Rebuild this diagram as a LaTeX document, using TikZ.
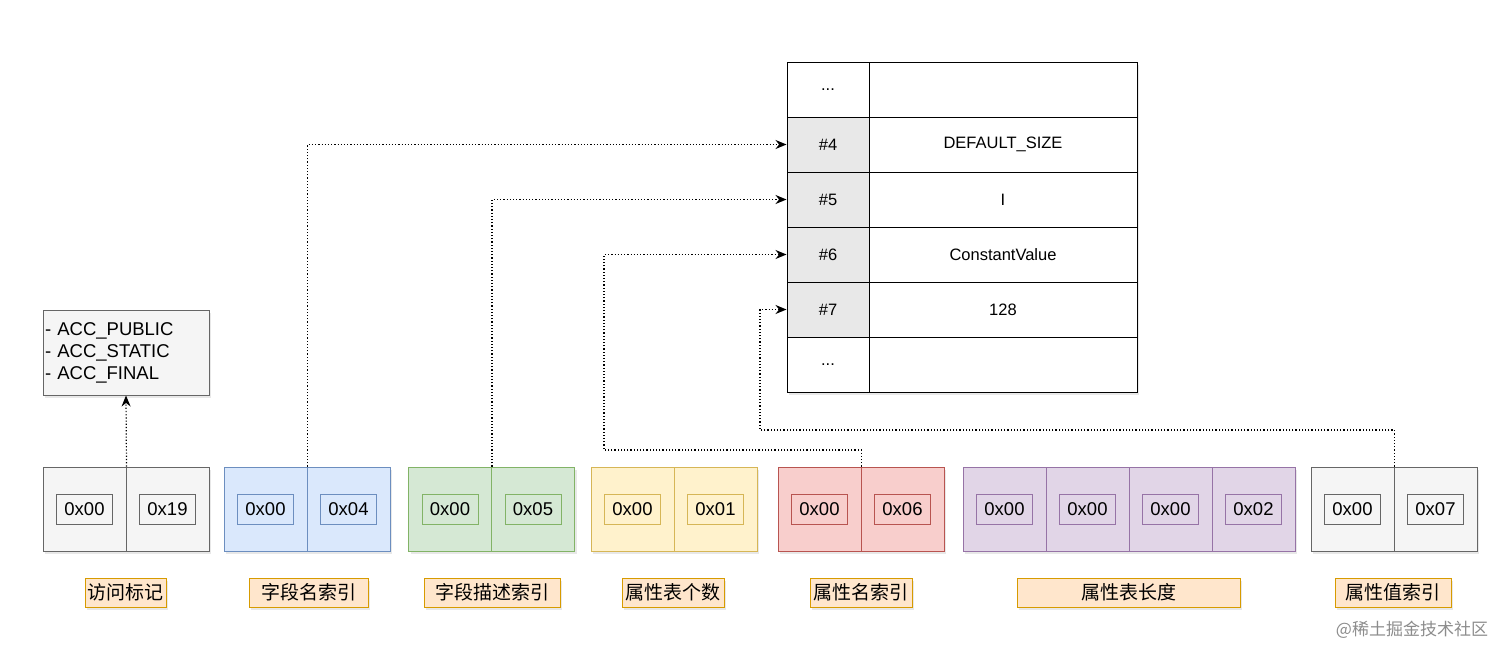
\documentclass[tikz,border=0pt]{standalone}
\usepackage{fontspec}
\setmainfont{Liberation Sans}
\newfontfamily\cjk{Noto Sans CJK SC}
\usetikzlibrary{arrows.meta,shadows}
\definecolor{grayF}{HTML}{F5F5F5}\definecolor{grayB}{HTML}{666666}
\definecolor{blueF}{HTML}{DAE8FC}\definecolor{blueB}{HTML}{6C8EBF}
\definecolor{greenF}{HTML}{D5E8D4}\definecolor{greenB}{HTML}{82B366}
\definecolor{yelF}{HTML}{FFF2CC}\definecolor{yelB}{HTML}{D6B656}
\definecolor{redF}{HTML}{F8CECC}\definecolor{redB}{HTML}{B85450}
\definecolor{purF}{HTML}{E1D5E7}\definecolor{purB}{HTML}{9673A6}
\definecolor{labF}{HTML}{FFE6CC}\definecolor{labB}{HTML}{D79B00}
\begin{document}
\begin{tikzpicture}[x=1pt,y=-1pt,
  shad/.style={drop shadow={opacity=0.18,shadow xshift=2pt,shadow yshift=-3pt}},
  cell/.style={draw, line width=1pt, minimum width=83pt, minimum height=84pt, inner sep=0pt, shad},
  byte/.style={draw, line width=0.8pt, minimum width=56pt, minimum height=30pt, inner sep=0pt, font=\fontsize{18.5}{20}\selectfont},
  lab/.style={draw=labB, fill=labF, line width=1pt, minimum height=29pt, inner sep=2pt, font=\cjk\fontsize{19}{20}\selectfont, shad},
  conn/.style={dotted, line width=1.2pt, -{Stealth[length=11pt,width=9pt]}},
  tcell/.style={draw, fill=white, line width=1pt, minimum height=55pt, inner sep=0pt, font=\fontsize{16.5}{18}\selectfont},
  tl/.style={tcell, minimum width=82pt},
  tr/.style={tcell, minimum width=268pt},
  tg/.style={fill=black!9}
]
\useasboundingbox (0,0) rectangle (1512,659);
% access flags box
\node[draw=grayB, fill=grayF, line width=1pt, minimum width=166pt, minimum height=85pt, text width=162pt, inner sep=2pt, align=left, font=\fontsize{18.5}{22}\selectfont, shad] (acc) at (126,352.5) {- ACC\_PUBLIC\\- ACC\_STATIC\\- ACC\_FINAL};
% table
\node[draw, fill=white, line width=1pt, minimum height=330pt, minimum width=350pt, shad] (tbg) at (962,227) {};
\node[tl] (t0l) at (828,89.5) {...};
\node[tr] (t0r) at (1003,89.5) {};
\node[tl,tg] (t4l) at (828,144.5) {\#4};
\node[tr] (t4r) at (1003,144.5) {DEFAULT\_SIZE};
\node[tl,tg] (t5l) at (828,199.5) {\#5};
\node[tr] (t5r) at (1003,199.5) {I};
\node[tl,tg] (t6l) at (828,254.5) {\#6};
\node[tr] (t6r) at (1003,254.5) {ConstantValue};
\node[tl,tg] (t7l) at (828,309.5) {\#7};
\node[tr] (t7r) at (1003,309.5) {128};
\node[tl] (t8l) at (828,364.5) {...};
\node[tr] (t8r) at (1003,364.5) {};
% byte groups
\newcommand{\grp}[5]{% name, left, fill, border, list
  \foreach \v [count=\i] in {#5} {
    \node[cell, fill=#3, draw=#4] (#1\i) at ({#2+41.5+83*(\i-1)},509) {};
    \node[byte, draw=#4] (#1\i v) at (#1\i) {\v};
  }}
\grp{ga}{43}{grayF}{grayB}{0x00,0x19}
\grp{gb}{224}{blueF}{blueB}{0x00,0x04}
\grp{gc}{408.5}{greenF}{greenB}{0x00,0x05}
\grp{gd}{591}{yelF}{yelB}{0x00,0x01}
\grp{ge}{778}{redF}{redB}{0x00,0x06}
\grp{gf}{963}{purF}{purB}{0x00,0x00,0x00,0x02}
\grp{gg}{1311}{grayF}{grayB}{0x00,0x07}
% labels
\node[lab, minimum width=81pt] (la) at (125.5,592.5) {访问标记};
\node[lab, minimum width=119pt] (lb) at (308.5,592.5) {字段名索引};
\node[lab, minimum width=136pt] (lc) at (492,592.5) {字段描述索引};
\node[lab, minimum width=102pt] (ld) at (673,592.5) {属性表个数};
\node[lab, minimum width=102pt] (le) at (861,592.5) {属性名索引};
\node[lab, minimum width=223pt] (lf) at (1128.5,592.5) {属性表长度};
\node[lab, minimum width=116pt] (lg) at (1393,592.5) {属性值索引};
% bend points
\coordinate (c5a) at (604,450);
\coordinate (c7a) at (760,430);
% connectors
\draw[conn] (ga1.north east) -- (acc.south);
\draw[conn] (gb1.north east) |- (t4l.west);
\draw[conn] (gc1.north east) |- (t5l.west);
\draw[conn] (ge1.north east) |- (c5a) |- (t6l.west);
\draw[conn] (gg1.north east) |- (c7a) |- (t7l.west);
% watermark
\node[text=black!45, font=\cjk\fontsize{17}{18}\selectfont, inner sep=0pt] (wm) at (1412,630) {@稀土掘金技术社区};
\end{tikzpicture}
\end{document}
